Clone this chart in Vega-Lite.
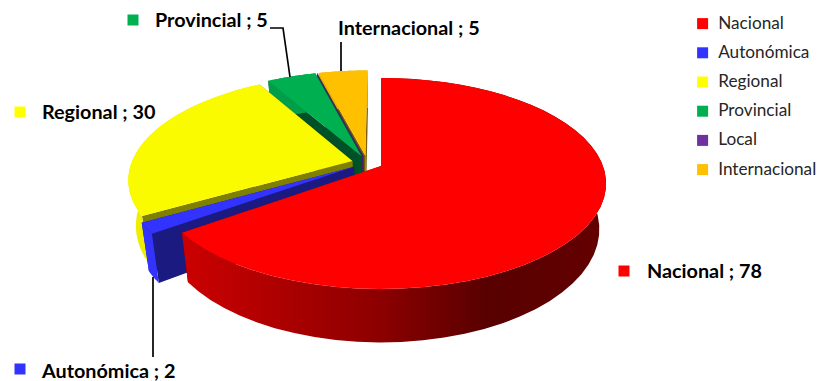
{
  "$schema": "https://vega.github.io/schema/vega-lite/v6.json",
  "width": 819,
  "height": 381,
  "padding": 0,
  "autosize": {"type": "none"},
  "background": "white",
  "config": {"view": {"stroke": null}},
  "data": {"values": [
    {"cat": "Internacional", "value": 5},
    {"cat": "Local", "value": 0},
    {"cat": "Provincial", "value": 5},
    {"cat": "Regional", "value": 30},
    {"cat": "Autonómica", "value": 2},
    {"cat": "Nacional", "value": 78}
  ]},
  "transform": [
    {"window": [{"op": "sum", "field": "value", "as": "c1"}], "frame": [null, 0]},
    {"joinaggregate": [{"op": "sum", "field": "value", "as": "total"}]},
    {"calculate": "2*PI*(1-datum.c1/datum.total)", "as": "a0"},
    {"calculate": "datum.a0+2*PI*datum.value/datum.total", "as": "a1"},
    {"calculate": "(datum.a0+datum.a1)/2", "as": "mid"},
    {"calculate": "['wall0','wall1','outer','top']", "as": "part"},
    {"flatten": ["part"]},
    {"calculate": "sequence(0, datum.part=='outer'?98:datum.part=='top'?50:4)", "as": "idx"},
    {"flatten": ["idx"]},
    {"calculate": "datum.part=='outer'?1:datum.part=='top'?(datum.idx==0?0:1):((datum.idx==0||datum.idx==3)?0:1)", "as": "r"},
    {"calculate": "datum.part=='wall0'?0:datum.part=='wall1'?1:datum.part=='outer'?(datum.idx<=48?datum.idx/48:(97-datum.idx)/48):max(datum.idx-1,0)/48", "as": "t"},
    {"calculate": "datum.part=='outer'?(datum.idx>48?1:0):datum.part=='top'?0:(datum.idx>=2?1:0)", "as": "z"},
    {"calculate": "datum.a0+datum.t*(datum.a1-datum.a0)", "as": "ang"},
    {"calculate": "0.07*sin(datum.mid)-0.0624+datum.r*sin(datum.ang)", "as": "u"},
    {"calculate": "-0.07*cos(datum.mid)-0.0318-datum.r*cos(datum.ang)", "as": "v"},
    {"calculate": "1-0.166*datum.v", "as": "w"},
    {"calculate": "381+222*(1-0.03*datum.z)*datum.u/datum.w", "as": "sx"},
    {"calculate": "166+44.5*datum.z+(102.6+7.4*datum.z)*datum.v/datum.w", "as": "sy"},
    {"calculate": "datum.cat+' '+(datum.part=='outer'?'side':datum.part=='top'?'top':'wall')", "as": "face"}
  ],
  "layer": [
    {
      "transform": [{"filter": "!(datum.cat=='Nacional' && (datum.part=='outer'||datum.part=='top'))"}],
      "mark": {"type": "line", "stroke": null, "interpolate": "linear"},
      "encoding": {
        "x": {"field": "sx", "type": "quantitative", "scale": {"domain": [0, 819], "nice": false, "zero": false}, "axis": null},
        "y": {"field": "sy", "type": "quantitative", "scale": {"domain": [381, 0], "nice": false, "zero": false}, "axis": null},
        "order": {"field": "idx", "type": "quantitative"},
        "detail": {"field": "part"},
        "fill": {
          "field": "face",
          "type": "nominal",
          "legend": null,
          "scale": {
            "domain": ["Internacional wall", "Internacional side", "Internacional top", "Local wall", "Local side", "Local top", "Provincial wall", "Provincial side", "Provincial top", "Regional wall", "Regional side", "Regional top", "Autonómica wall", "Autonómica side", "Autonómica top", "Nacional wall"],
            "range": ["#7a5c00", "#e6ad00", "#ffc000", "#3a2a60", "#3a2a60", "#3a2a60", "#005028", "#009e48", "#00b050", "#808000", "#eeee00", "#fbfb00", "#1a1a80", "#3333ff", "#3333ff", "#800000"]
          }
        }
      }
    },
    {
      "transform": [{"filter": "datum.cat=='Nacional' && datum.part=='outer'"}],
      "mark": {
        "type": "line",
        "stroke": null,
        "fill": {
          "gradient": "linear", "x1": 0, "x2": 1, "y1": 0, "y2": 0,
          "stops": [
            {"offset": 0, "color": "#cc0000"},
            {"offset": 0.47, "color": "#8c0000"},
            {"offset": 0.72, "color": "#580000"},
            {"offset": 1, "color": "#640000"}
          ]
        }
      },
      "encoding": {
        "x": {"field": "sx", "type": "quantitative", "scale": {"domain": [0, 819], "nice": false, "zero": false}, "axis": null},
        "y": {"field": "sy", "type": "quantitative", "scale": {"domain": [381, 0], "nice": false, "zero": false}, "axis": null},
        "order": {"field": "idx", "type": "quantitative"}
      }
    },
    {
      "transform": [{"filter": "datum.cat=='Nacional' && datum.part=='top'"}],
      "mark": {"type": "line", "stroke": null, "fill": "#ff0000"},
      "encoding": {
        "x": {"field": "sx", "type": "quantitative", "scale": {"domain": [0, 819], "nice": false, "zero": false}, "axis": null},
        "y": {"field": "sy", "type": "quantitative", "scale": {"domain": [381, 0], "nice": false, "zero": false}, "axis": null},
        "order": {"field": "idx", "type": "quantitative"}
      }
    },
    {
      "transform": [
        {"filter": "datum.part=='wall0' && datum.idx<3 && (datum.cat=='Provincial'||datum.cat=='Internacional'||datum.cat=='Autonómica')"},
        {"calculate": "{'Provincial':[270,283,290],'Internacional':[341,341,341],'Autonómica':[153,153,153]}[datum.cat][datum.idx]", "as": "lx"},
        {"calculate": "{'Provincial':[28,28,77],'Internacional':[42,71,71],'Autonómica':[277,357,357]}[datum.cat][datum.idx]", "as": "ly"}
      ],
      "mark": {"type": "line", "color": "#000000", "strokeWidth": 1.7},
      "encoding": {
        "x": {"field": "lx", "type": "quantitative", "scale": {"domain": [0, 819], "nice": false, "zero": false}, "axis": null},
        "y": {"field": "ly", "type": "quantitative", "scale": {"domain": [381, 0], "nice": false, "zero": false}, "axis": null},
        "order": {"field": "idx", "type": "quantitative"},
        "detail": {"field": "cat"}
      }
    },
    {
      "transform": [
        {"filter": "datum.part=='top' && datum.idx==0 && datum.value>0 && datum.cat!='Internacional'"},
        {"calculate": "{'Nacional':624,'Autonómica':20,'Regional':20,'Provincial':133}[datum.cat]", "as": "kx"},
        {"calculate": "{'Nacional':271,'Autonómica':369,'Regional':112,'Provincial':20}[datum.cat]", "as": "ky"}
      ],
      "mark": {"type": "point", "shape": "square", "filled": true, "size": 121, "opacity": 1},
      "encoding": {
        "x": {"field": "kx", "type": "quantitative", "scale": {"domain": [0, 819], "nice": false, "zero": false}, "axis": null},
        "y": {"field": "ky", "type": "quantitative", "scale": {"domain": [381, 0], "nice": false, "zero": false}, "axis": null},
        "fill": {
          "field": "cat",
          "type": "nominal",
          "scale": {
            "domain": ["Nacional", "Autonómica", "Regional", "Provincial", "Local", "Internacional"],
            "range": ["#ff0000", "#3333ff", "#ffff00", "#00b050", "#7030a0", "#ffc000"]
          },
          "legend": {
            "title": null,
            "orient": "none",
            "legendX": 694,
            "legendY": 15,
            "symbolType": "square",
            "symbolSize": 121,
            "symbolStrokeWidth": 0,
            "labelFont": "Lato",
            "labelFontSize": 17.2,
            "labelColor": "#262626",
            "labelOffset": 7,
            "rowPadding": 11.2,
            "labelLimit": 140
          }
        }
      }
    },
    {
      "transform": [
        {"filter": "datum.part=='top' && datum.idx==0 && datum.value>0"},
        {"calculate": "{'Nacional':647,'Autonómica':42,'Regional':42,'Provincial':155,'Internacional':338}[datum.cat]", "as": "tx"},
        {"calculate": "{'Nacional':272,'Autonómica':372,'Regional':113,'Provincial':21,'Internacional':29}[datum.cat]", "as": "ty"},
        {"calculate": "datum.cat+' ; '+datum.value", "as": "caption"}
      ],
      "mark": {"type": "text", "align": "left", "baseline": "middle", "font": "Lato", "fontSize": 19.8, "fontWeight": "bold", "color": "#000000"},
      "encoding": {
        "x": {"field": "tx", "type": "quantitative", "scale": {"domain": [0, 819], "nice": false, "zero": false}, "axis": null},
        "y": {"field": "ty", "type": "quantitative", "scale": {"domain": [381, 0], "nice": false, "zero": false}, "axis": null},
        "text": {"field": "caption"}
      }
    }
  ],
  "resolve": {"scale": {"fill": "independent"}}
}
